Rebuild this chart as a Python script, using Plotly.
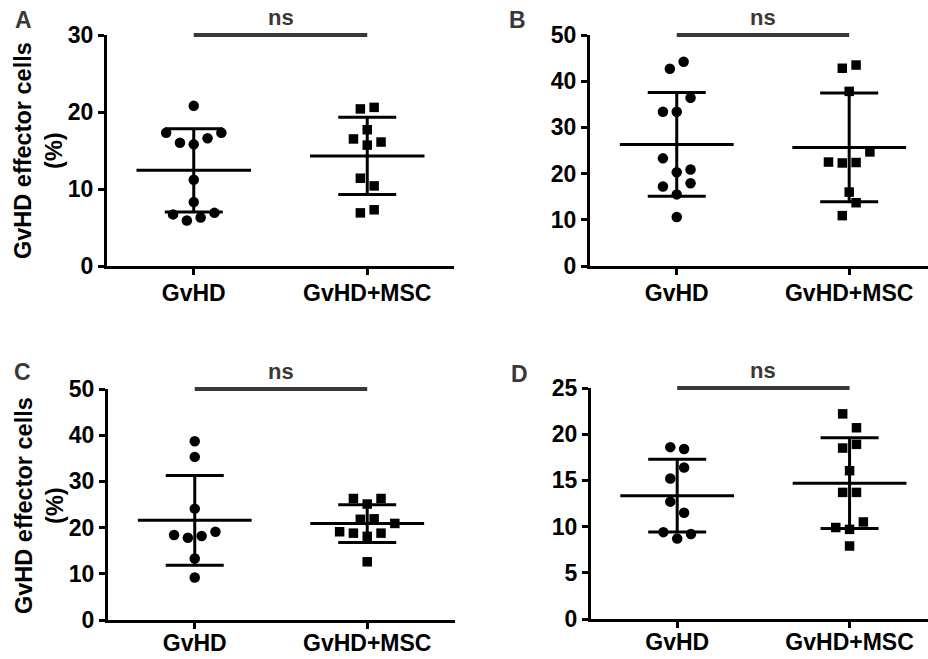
import numpy as np
import plotly.graph_objects as go

# ---- data -------------------------------------------------------------
groups = ["GvHD", "GvHD+MSC"]

a_gvhd = [5.9, 6.3, 6.7, 6.9, 8.3, 11.2, 15.8, 16.0, 16.6, 17.3, 17.3, 20.8]
a_msc = [6.9, 7.3, 11.4, 10.4, 15.7, 16.5, 16.1, 17.7, 20.4, 20.6]

b_gvhd = [10.6, 15.5, 17.2, 17.9, 20.3, 23.3, 20.9, 33.4, 33.4, 36.4, 42.7, 44.2]
b_msc = [10.9, 13.7, 16.0, 22.3, 22.4, 22.5, 24.7, 37.8, 42.8, 43.5]

c_gvhd = [9.2, 13.3, 17.8, 18.2, 18.4, 19.1, 24.1, 35.3, 38.7]
c_msc = [12.6, 18.1, 18.8, 18.8, 19.1, 20.9, 21.8, 21.9, 25.1, 26.3, 26.3]

d_gvhd = [8.7, 9.4, 9.2, 12.7, 11.5, 15.2, 16.4, 18.6, 18.4]
d_msc = [7.9, 9.7, 9.9, 10.5, 13.7, 13.7, 16.05, 18.5, 18.9, 22.2, 20.7]

a_ticks = [0, 10, 20, 30]
b_ticks = [0, 10, 20, 30, 40, 50]
c_ticks = [0, 10, 20, 30, 40, 50]
d_ticks = [0, 5, 10, 15, 20, 25]

panel_letters = ["A", "B", "C", "D"]
comparison = "ns"
y_title = "GvHD effector cells<br>(%)"

# ---- layout constants ---------------------------------------------------
W, H = 928, 659
FONT = "Liberation Sans, Arial, sans-serif"
INK = "#000000"
GREY = "#383838"

# pixel boxes of each plotting area: left, right, top, bottom
boxes = [(107, 454, 35, 266), (590, 928, 35, 266),
         (108, 455, 389, 620), (591, 928, 388, 619)]
xranges = [(-0.5, 1.5), (-0.503, 1.457), (-0.503, 1.509), (-0.5, 1.455)]
# extra shift of the category labels (negative pulls them towards the axis)
label_shift = [-2, -2, -6, -6]

panels = [
    (a_gvhd, a_msc, a_ticks),
    (b_gvhd, b_msc, b_ticks),
    (c_gvhd, c_msc, c_ticks),
    (d_gvhd, d_msc, d_ticks),
]

SLOT_PX = 13.8      # horizontal spacing of neighbouring dots
ROW_PX = 14.5       # dots closer than this (vertically) share a row
MEAN_HALF = 0.33    # half-length of the mean bar, in category units
CAP_HALF_PX = 29    # half-width of the SD caps


def swarm_offsets(values, y_px_per_unit, slot_units):
    """Column-scatter layout: nearby values form a row spread about the centre."""
    v = np.asarray(values, float)
    order = np.argsort(v, kind="stable")
    rows, cur = [], [order[0]]
    for idx in order[1:]:
        if (v[idx] - v[cur[0]]) * y_px_per_unit <= ROW_PX:
            cur.append(idx)
        else:
            rows.append(cur)
            cur = [idx]
    rows.append(cur)
    offs = np.zeros(len(v))
    for row in rows:
        row = sorted(row)
        n = len(row)
        if n % 2:
            slots = [0] + [s for k in range(1, n // 2 + 1) for s in (-k, k)]
        else:
            slots = [s for k in range(n // 2) for s in (-(k + 0.5), k + 0.5)]
        for idx, s in zip(row, slots):
            offs[idx] = s * slot_units
    return offs


fig = go.Figure()
layout_axes = {}
annotations = []
shapes = []

for p, ((g0, g1, ticks), box, xr) in enumerate(zip(panels, boxes, xranges)):
    left, right, top, bottom = box
    n = "" if p == 0 else str(p + 1)
    xa, ya = "x" + n, "y" + n
    ymax = ticks[-1]
    y_ppu = (bottom - top) / ymax
    x_ppu = (right - left) / (xr[1] - xr[0])
    slot_units = SLOT_PX / x_ppu

    for gi, (vals, symbol, msize) in enumerate(
            [(g0, "circle", 10.5), (g1, "square", 9.5)]):
        vals = np.asarray(vals, float)
        xs = gi + swarm_offsets(vals, y_ppu, slot_units)
        fig.add_trace(go.Scatter(
            x=xs, y=vals, mode="markers", xaxis=xa, yaxis=ya,
            marker=dict(symbol=symbol, size=msize, color=INK, line=dict(width=0)),
            cliponaxis=False, hoverinfo="y"))
        mean, sd = vals.mean(), vals.std(ddof=1)
        # SD whiskers with caps
        fig.add_trace(go.Scatter(
            x=[gi], y=[mean], mode="markers", xaxis=xa, yaxis=ya,
            marker=dict(size=1, opacity=0),
            error_y=dict(type="data", array=[sd], symmetric=True,
                         thickness=3, width=CAP_HALF_PX, color=INK),
            cliponaxis=False, hoverinfo="skip"))
        # mean bar
        fig.add_trace(go.Scatter(
            x=[gi - MEAN_HALF, gi + MEAN_HALF], y=[mean, mean], mode="lines",
            xaxis=xa, yaxis=ya, line=dict(color=INK, width=3),
            hoverinfo="skip"))

    axis_common = dict(showline=True, linewidth=3, linecolor=INK,
                       ticks="outside", ticklen=6, tickwidth=3, tickcolor=INK,
                       showgrid=False, zeroline=False, fixedrange=True,
                       automargin=False,
                       tickfont=dict(family=FONT, size=23, color=INK,
                                     weight="bold"))
    layout_axes["xaxis" + n] = dict(
        axis_common, domain=[left / W, right / W], range=list(xr),
        tickvals=[0, 1], ticktext=groups, anchor=ya,
        ticklabelstandoff=label_shift[p])
    layout_axes["yaxis" + n] = dict(
        axis_common, domain=[1 - bottom / H, 1 - top / H], range=[0, ymax],
        tickvals=ticks, anchor=xa)

    # significance bracket and label
    shapes.append(dict(type="line", xref=xa, yref=ya + " domain",
                       x0=0, x1=1, y0=1, y1=1,
                       line=dict(color=GREY, width=4)))
    annotations.append(dict(
        text=comparison, xref=xa, x=0.5, yref="paper",
        y=1 - (top - 17.7) / H, xanchor="center", yanchor="middle",
        showarrow=False,
        font=dict(family=FONT, size=22, color=GREY, weight="bold")))

# panel letters
for letter, (lx, ly) in zip(panel_letters,
                            [(23.5, 20.3), (517, 20.3), (22.5, 372.3), (519, 374.3)]):
    annotations.append(dict(
        text=letter, xref="paper", yref="paper", x=lx / W, y=1 - ly / H,
        xanchor="center", yanchor="middle", showarrow=False,
        font=dict(family=FONT, size=23, color=GREY, weight="bold")))

# y-axis titles on the left-hand panels
for ty in (151, 506):
    annotations.append(dict(
        text=y_title, xref="paper", yref="paper", x=39 / W, y=1 - ty / H,
        xanchor="center", yanchor="middle", textangle=-90, showarrow=False,
        font=dict(family=FONT, size=23.5, color=INK, weight="bold")))

fig.update_layout(
    width=W, height=H, margin=dict(l=0, r=0, t=0, b=0, autoexpand=False),
    paper_bgcolor="white", plot_bgcolor="white", showlegend=False,
    annotations=annotations, shapes=shapes, **layout_axes)

fig.write_html("out.html")
